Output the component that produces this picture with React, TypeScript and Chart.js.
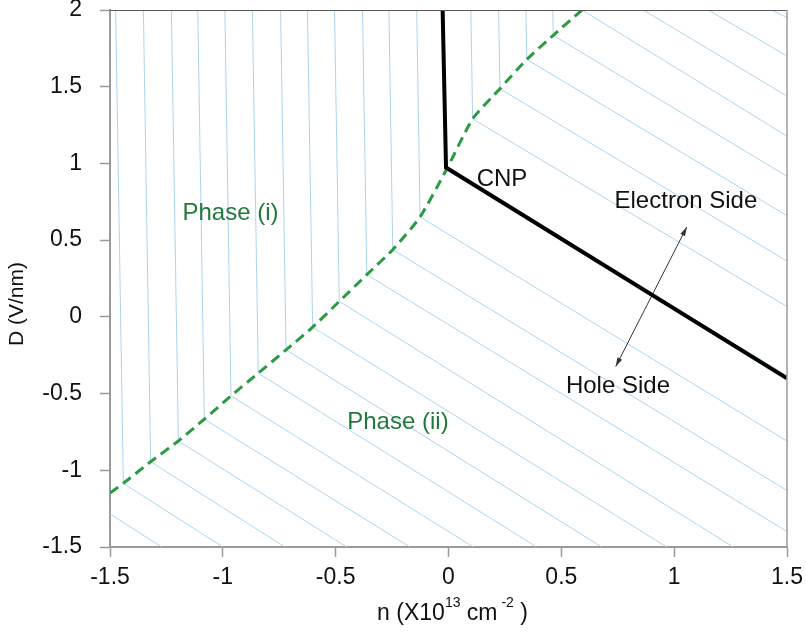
import React, { useEffect, useRef } from 'react';
import { Chart, registerables } from 'chart.js';

Chart.register(...registerables);

// ---- Axis ticks ----
const xTickValues = [-1.5, -1, -0.5, 0, 0.5, 1, 1.5];
const xTickLabels = ['-1.5', '-1', '-0.5', '0', '0.5', '1', '1.5'];
const yTickValues = [-1.5, -1, -0.5, 0, 0.5, 1, 1.5, 2];
const yTickLabels = ['-1.5', '-1', '-0.5', '0', '0.5', '1', '1.5', '2'];

// ---- CNP line (black) ----
const cnpN = [-0.026, -0.011, 1.5];
const cnpD = [2.0, 0.973, -0.4];

// ---- Phase boundary (green dashed) ----
const boundaryN = [-1.5, -1.441, -1.32, -1.197, -1.082, -0.964, -0.843, -0.72, -0.602, -0.484, -0.362, -0.247, -0.126, -0.009, 0.107, 0.228, 0.347, 0.464, 0.592];
const boundaryD = [-1.148, -1.085, -0.944, -0.809, -0.667, -0.515, -0.367, -0.215, -0.067, 0.101, 0.275, 0.438, 0.651, 0.96, 1.29, 1.487, 1.678, 1.835, 2.0];

// ---- Hatch lines (light blue): vertical part from top to boundary, then diagonal ----
const hatchTopN = [-1.597, -1.475, -1.352, -1.228, -1.111, -0.991, -0.869, -0.744, -0.625, -0.505, -0.381, -0.264, -0.141, -0.02, 0.099, 0.222, 0.343, 0.462, 0.592, 0.863, 1.151, 1.432];
const hatchJoinN = [-1.562, -1.441, -1.32, -1.197, -1.082, -0.964, -0.843, -0.72, -0.602, -0.484, -0.362, -0.247, -0.126, -0.009, 0.107, 0.228, 0.347, 0.464, 0.592, 0.863, 1.151, 1.432];
const hatchJoinD = [-1.226, -1.085, -0.944, -0.809, -0.667, -0.515, -0.367, -0.215, -0.067, 0.101, 0.275, 0.438, 0.651, 0.96, 1.29, 1.487, 1.678, 1.835, 2.0, 2.0, 2.0, 2.0];
const hatchEndN = [-1.271, -1.0, -0.725, -0.451, -0.171, 0.11, 0.391, 0.679, 0.967, 1.262, 1.5, 1.5, 1.5, 1.5, 1.5, 1.5, 1.5, 1.5, 1.5, 1.5, 1.5, 1.5];
const hatchEndD = [-1.5, -1.5, -1.5, -1.5, -1.5, -1.5, -1.5, -1.5, -1.5, -1.5, -1.399, -1.132, -0.81, -0.383, 0.067, 0.363, 0.659, 0.916, 1.178, 1.439, 1.7, 1.95];

// ---- Double arrow ----
const arrowN = [0.741, 1.056];
const arrowD = [-0.324, 0.586];

// ---- Text labels ----
const labelTexts = ['Phase (i)', 'Phase (ii)', 'CNP', 'Electron Side', 'Hole Side'];
const labelN = [-0.966, -0.224, 0.237, 1.052, 0.751];
const labelD = [0.673, -0.685, 0.895, 0.753, -0.45];
const labelColors = ['#207a3c', '#207a3c', '#111111', '#111111', '#111111'];

const FONT = "'Liberation Sans', Arial, Helvetica, sans-serif";
const HATCH_COLOR = '#acd5f0';
const GREEN = '#2b9a42';
const AXIS_GRAY = '#9a9a9a';

const decorPlugin = {
  id: 'decor',
  afterDatasetsDraw(chart: any) {
    const { ctx, chartArea: a, scales } = chart;
    const xs = scales.x;
    const ys = scales.y;
    ctx.save();

    // top and right frame
    ctx.strokeStyle = '#5a5a5a';
    ctx.lineWidth = 1.2;
    ctx.beginPath();
    ctx.moveTo(a.left, a.top + 0.5);
    ctx.lineTo(a.right, a.top + 0.5);
    ctx.stroke();
    ctx.strokeStyle = AXIS_GRAY;
    ctx.lineWidth = 1.5;
    ctx.beginPath();
    ctx.moveTo(a.right, a.top);
    ctx.lineTo(a.right, a.bottom);
    ctx.stroke();

    // arrowheads
    const p0 = { x: xs.getPixelForValue(arrowN[0]), y: ys.getPixelForValue(arrowD[0]) };
    const p1 = { x: xs.getPixelForValue(arrowN[1]), y: ys.getPixelForValue(arrowD[1]) };
    const head = (tip: any, from: any) => {
      const ang = Math.atan2(tip.y - from.y, tip.x - from.x);
      const L = 9, W = 2.6;
      ctx.fillStyle = '#333';
      ctx.beginPath();
      ctx.moveTo(tip.x, tip.y);
      ctx.lineTo(tip.x - L * Math.cos(ang) + W * Math.sin(ang), tip.y - L * Math.sin(ang) - W * Math.cos(ang));
      ctx.lineTo(tip.x - L * Math.cos(ang) - W * Math.sin(ang), tip.y - L * Math.sin(ang) + W * Math.cos(ang));
      ctx.closePath();
      ctx.fill();
    };
    head(p0, p1);
    head(p1, p0);

    // text labels
    ctx.textAlign = 'center';
    ctx.textBaseline = 'middle';
    labelTexts.forEach((t, i) => {
      ctx.fillStyle = labelColors[i];
      ctx.font = `24px ${FONT}`;
      ctx.fillText(t, xs.getPixelForValue(labelN[i]), ys.getPixelForValue(labelD[i]));
    });

    // y-axis title
    ctx.save();
    ctx.translate(17, 304);
    ctx.rotate(-Math.PI / 2);
    ctx.fillStyle = '#111';
    ctx.font = `21px ${FONT}`;
    ctx.textAlign = 'center';
    ctx.textBaseline = 'middle';
    ctx.fillText('D (V/nm)', 0, 0);
    ctx.restore();

    // x-axis title with superscripts
    const parts = [
      { t: 'n (X10', sup: false },
      { t: '13', sup: true },
      { t: ' cm', sup: false },
      { t: ' -2', sup: true },
      { t: ' )', sup: false },
    ];
    const big = `23px ${FONT}`;
    const small = `14px ${FONT}`;
    let total = 0;
    parts.forEach((p) => {
      ctx.font = p.sup ? small : big;
      total += ctx.measureText(p.t).width;
    });
    let cx = 452.5 - total / 2;
    const baseY = 620;
    ctx.textAlign = 'left';
    ctx.textBaseline = 'alphabetic';
    ctx.fillStyle = '#111';
    parts.forEach((p) => {
      ctx.font = p.sup ? small : big;
      ctx.fillText(p.t, cx, p.sup ? baseY - 13 : baseY);
      cx += ctx.measureText(p.t).width;
    });

    ctx.restore();
  },
};

export default function App() {
  const ref = useRef<HTMLCanvasElement | null>(null);

  useEffect(() => {
    if (!ref.current) return;

    const datasets: any[] = [];
    // black CNP line (top)
    datasets.push({
      data: cnpN.map((n, i) => ({ x: n, y: cnpD[i] })),
      borderColor: '#000',
      borderWidth: 4,
      borderCapStyle: 'butt',
      borderJoinStyle: 'miter',
      pointRadius: 0,
      showLine: true,
      order: 0,
    });
    // arrow shaft
    datasets.push({
      data: arrowN.map((n, i) => ({ x: n, y: arrowD[i] })),
      borderColor: '#333',
      borderWidth: 1,
      pointRadius: 0,
      showLine: true,
      order: 1,
    });
    // green boundary
    datasets.push({
      data: boundaryN.map((n, i) => ({ x: n, y: boundaryD[i] })),
      borderColor: GREEN,
      borderWidth: 3,
      borderDash: [10, 6],
      tension: 0.2,
      pointRadius: 0,
      showLine: true,
      order: 2,
    });
    // hatch lines
    const yTop = yTickValues[yTickValues.length - 1];
    hatchTopN.forEach((tn, i) => {
      datasets.push({
        data: [
          { x: tn, y: yTop },
          { x: hatchJoinN[i], y: hatchJoinD[i] },
          { x: hatchEndN[i], y: hatchEndD[i] },
        ],
        borderColor: HATCH_COLOR,
        borderWidth: 1,
        pointRadius: 0,
        showLine: true,
        order: 3,
      });
    });

    const chart = new Chart(ref.current, {
      type: 'scatter',
      data: { datasets },
      options: {
        animation: false,
        responsive: false,
        events: [],
        layout: { padding: { top: 10, right: 19, left: 0, bottom: 0 } },
        plugins: { legend: { display: false }, tooltip: { enabled: false } },
        scales: {
          x: {
            type: 'linear',
            min: xTickValues[0],
            max: xTickValues[xTickValues.length - 1],
            afterBuildTicks: (s: any) => {
              s.ticks = xTickValues.map((v) => ({ value: v }));
            },
            afterFit: (s: any) => {
              s.height = 86;
              s.paddingLeft = 0;
              s.paddingRight = 0;
            },
            ticks: {
              callback: (_v: any, i: number) => xTickLabels[i],
              font: { family: FONT, size: 23 },
              color: '#111',
              padding: 7,
              maxRotation: 0,
              autoSkip: false,
            },
            grid: {
              drawOnChartArea: false,
              drawTicks: true,
              tickLength: 10,
              tickColor: AXIS_GRAY,
              tickWidth: 1.5,
            },
            border: { display: true, color: AXIS_GRAY, width: 2 },
          },
          y: {
            type: 'linear',
            min: yTickValues[0],
            max: yTickValues[yTickValues.length - 1],
            afterBuildTicks: (s: any) => {
              s.ticks = yTickValues.map((v) => ({ value: v }));
            },
            afterFit: (s: any) => {
              s.width = 110;
              s.paddingTop = 0;
              s.paddingBottom = 0;
            },
            ticks: {
              callback: (_v: any, i: number) => yTickLabels[i],
              font: { family: FONT, size: 23 },
              color: '#111',
              padding: 18,
              autoSkip: false,
            },
            grid: {
              drawOnChartArea: false,
              drawTicks: true,
              tickLength: 10,
              tickColor: AXIS_GRAY,
              tickWidth: 1.5,
            },
            border: { display: true, color: AXIS_GRAY, width: 2 },
          },
        },
      },
      plugins: [decorPlugin],
    } as any);

    return () => chart.destroy();
  }, []);

  return (
    <div style={{ position: 'absolute', left: 0, top: 0, width: 806, height: 633, background: '#fff' }}>
      <canvas ref={ref} width={806} height={633} style={{ display: 'block' }} />
    </div>
  );
}
